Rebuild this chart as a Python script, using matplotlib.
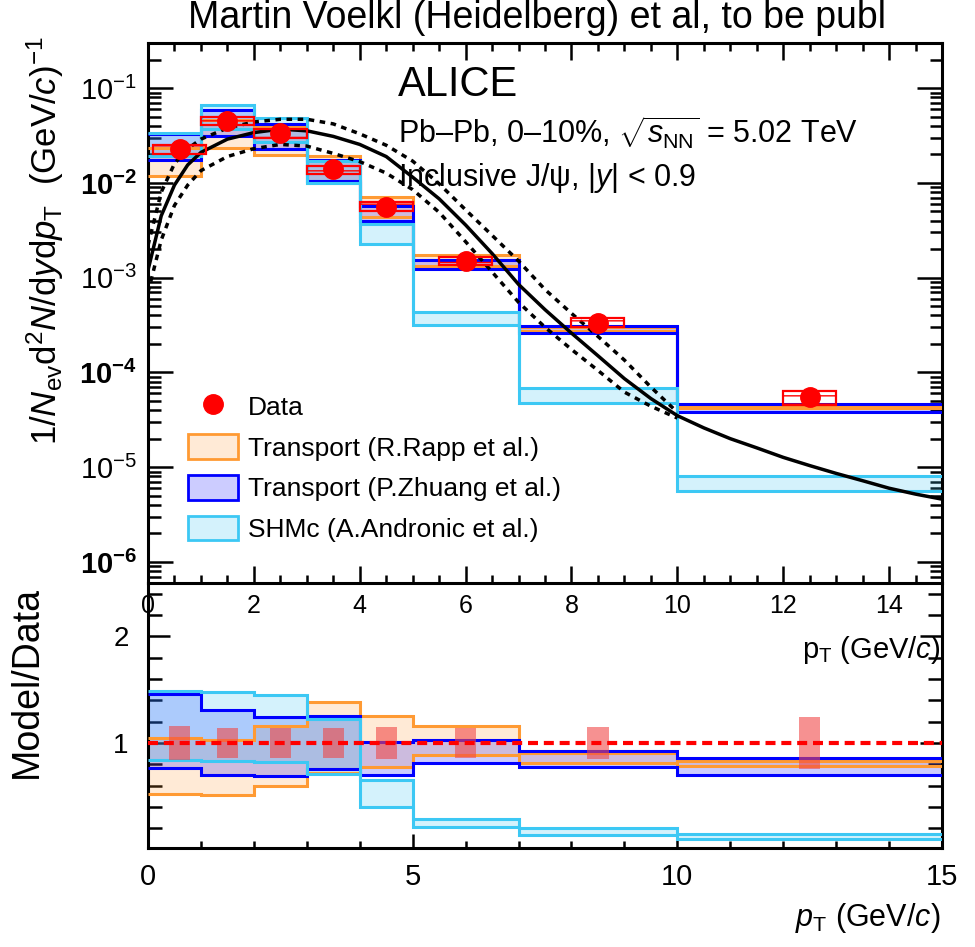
import numpy as np
import matplotlib
matplotlib.use('Agg')
import matplotlib.pyplot as plt
from matplotlib.patches import Rectangle, Patch
from matplotlib.lines import Line2D
from matplotlib.ticker import (MultipleLocator, FixedLocator, LogLocator, NullFormatter,
                               FuncFormatter)

plt.rcParams['font.family'] = ['Liberation Sans', 'DejaVu Sans']
plt.rcParams['mathtext.fontset'] = 'custom'
plt.rcParams['mathtext.rm'] = 'Liberation Sans'
plt.rcParams['mathtext.it'] = 'Liberation Sans:italic'
plt.rcParams['mathtext.bf'] = 'Liberation Sans:bold'

# pT binning and data
bin_edges = [0, 1, 2, 3, 4, 5, 7, 10, 15]
data_x = [0.6, 1.5, 2.5, 3.5, 4.5, 6.0, 8.5, 12.5]
data_y = [0.0226, 0.0453, 0.0334, 0.0139, 0.00564, 0.00151, 3.36e-4, 5.46e-5]
data_err = [0.16, 0.14, 0.14, 0.14, 0.15, 0.14, 0.15, 0.24]   # relative

# model / data bands per bin
rapp_lo = [0.525, 0.51, 0.594, 0.72, 0.775, 0.89, 0.81, 0.78]
rapp_hi = [1.047, 1.03, 1.156, 1.384, 1.25, 1.162, 0.906, 0.83]
zhuang_lo = [0.766, 0.697, 0.688, 0.76, 0.697, 0.81, 0.775, 0.697]
zhuang_hi = [1.46, 1.31, 1.24, 1.25, 1.006, 1.025, 0.928, 0.856]
shm_lo = [0.844, 0.828, 0.819, 0.71, 0.40, 0.21, 0.14, 0.103]
shm_hi = [1.484, 1.475, 1.453, 1.228, 0.656, 0.29, 0.203, 0.147]

# black reference curves
curve_pt = [0, 0.25, 0.5, 0.75, 1, 1.5, 2, 2.5, 3, 3.5, 4, 4.5, 5, 5.5, 6, 6.5, 7,
            7.5, 8, 8.5, 9, 9.5, 10, 10.5, 11, 11.5, 12, 12.5, 13, 13.5, 14, 14.5, 15]
curve_mid = [1.2e-3, 4.5e-3, 0.0095, 0.0155, 0.021, 0.029, 0.034, 0.037, 0.0355, 0.031,
             0.0255, 0.019, 0.0115, 0.0068, 0.0036, 1.8e-3, 8.5e-4, 4.6e-4, 2.6e-4, 1.5e-4,
             8.6e-5, 5.3e-5, 3.5e-5, 2.6e-5, 2.0e-5, 1.6e-5, 1.27e-5, 1.04e-5, 8.6e-6,
             7.2e-6, 6.0e-6, 5.2e-6, 4.6e-6]
curve_hi = [2.2e-3, 8e-3, 0.016, 0.023, 0.029, 0.038, 0.044, 0.047, 0.047, 0.042, 0.033,
            0.025, 0.017, 0.0098, 5.2e-3, 2.8e-3, 1.5e-3, 7.5e-4, 4.2e-4, 2.4e-4, 1.35e-4,
            7e-5, 3.8e-5]
curve_lo = [7e-4, 2.5e-3, 5.8e-3, 0.0095, 0.0135, 0.019, 0.023, 0.0255, 0.0245, 0.0205,
            0.0168, 0.0127, 0.0085, 4.9e-3, 2.4e-3, 1.15e-3, 5.5e-4, 3.0e-4, 1.75e-4,
            1.05e-4, 6.2e-5, 4.4e-5, 3.3e-5]

orange = '#ff9a33'
blue = '#0000ff'
cyan = '#3cc8f4'

models = [
    (rapp_lo, rapp_hi, orange, 0.2, 'Transport (R.Rapp et al.)'),
    (zhuang_lo, zhuang_hi, blue, 0.2, 'Transport (P.Zhuang et al.)'),
    (shm_lo, shm_hi, cyan, 0.22, 'SHMc (A.Andronic et al.)'),
]

fig = plt.figure(figsize=(9.75, 9.47), dpi=100)
ax_r = fig.add_axes([0.1518, 0.1045, 0.8144, 0.2798])
ax = fig.add_axes([0.1518, 0.3844, 0.8144, 0.5702])

edges = np.array(bin_edges, dtype=float)
dy = np.array(data_y)

# ---- top panel
for lo, hi, ec, a, lab in models:
    lo_abs = np.array(lo) * dy
    hi_abs = np.array(hi) * dy
    ax.stairs(hi_abs, edges, baseline=lo_abs, fill=True, color=ec, alpha=a, lw=0, zorder=2)
    ax.stairs(hi_abs, edges, baseline=None, color=ec, lw=2.2, zorder=3)
    ax.stairs(lo_abs, edges, baseline=None, color=ec, lw=2.2, zorder=3)

ax.plot(curve_pt, curve_mid, color='black', lw=2.5, zorder=4)
ax.plot(curve_pt[:len(curve_hi)], curve_hi, color='black', lw=2.5, ls=(0, (1.6, 1.6)), zorder=4)
ax.plot(curve_pt[:len(curve_lo)], curve_lo, color='black', lw=2.5, ls=(0, (1.6, 1.6)), zorder=4)

for x, y, e in zip(data_x, data_y, data_err):
    ax.add_patch(Rectangle((x - 0.5, y * (1 - e * 0.7)), 1.0, y * e * 1.4,
                           facecolor='none', edgecolor='red', lw=1.6, hatch='--', zorder=5))
ax.plot(data_x, data_y, 'o', color='red', ms=14, zorder=6)


def log_label(v, pos):
    p = int(round(np.log10(v)))
    if p % 2 == 0:
        return r'$\mathbf{10^{%d}}$' % p
    return r'$10^{%d}$' % p


ax.set_yscale('log')
ax.set_xlim(0, 15)
ax.set_ylim(6e-7, 0.3)
ax.xaxis.set_major_locator(FixedLocator([0, 2, 4, 6, 8, 10, 12, 14]))
ax.xaxis.set_minor_locator(MultipleLocator(0.5))
ax.yaxis.set_major_locator(LogLocator(base=10, numticks=20))
ax.yaxis.set_major_formatter(FuncFormatter(log_label))
ax.yaxis.set_minor_locator(LogLocator(base=10, subs=np.arange(2, 10), numticks=20))
ax.yaxis.set_minor_formatter(NullFormatter())
ax.tick_params(which='both', direction='in', top=True, right=True, width=1.8)
ax.tick_params(axis='x', which='major', length=12, labelsize=18, pad=8)
ax.tick_params(axis='x', which='minor', length=6)
ax.tick_params(axis='y', which='major', length=18, labelsize=21, pad=8)
ax.tick_params(axis='y', which='minor', length=9)
for s in ax.spines.values():
    s.set_linewidth(2.2)

leg_handles = [Line2D([], [], marker='o', color='red', ls='none', ms=14)]
for lo, hi, ec, a, lab in models:
    leg_handles.append(Patch(facecolor=matplotlib.colors.to_rgba(ec, a), edgecolor=ec, lw=2))
leg_labels = ['Data'] + [m[4] for m in models]
ax.legend(leg_handles, leg_labels, loc='upper left', bbox_to_anchor=(0.037, 0.37),
          frameon=False, fontsize=19, handlelength=1.9, handleheight=1.05,
          labelspacing=0.55, handletextpad=0.38, borderaxespad=0)

fig.text(398 / 975, 1 - 85 / 947, 'ALICE', fontsize=30, ha='left', va='center')
fig.text(398 / 975, 1 - 133 / 947, r'Pb–Pb, 0–10%, $\sqrt{s_{\rm NN}}$ = 5.02 TeV',
         fontsize=22, ha='left', va='center')
fig.text(398 / 975, 1 - 178 / 947, r'Inclusive J/ψ, |$y$| < 0.9', fontsize=22,
         ha='left', va='center')
fig.text(537 / 975, 1 - 18 / 947, 'Martin Voelkl (Heidelberg) et al, to be publ',
         fontsize=27, ha='center', va='center')
fig.text(45 / 975, 1 - 445 / 947,
         r'1/$N_{\rm ev}$d$^{2}N$/d$y$d$p_{\rm T}$  (GeV/$c$)$^{-1}$',
         fontsize=25, rotation=90, ha='center', va='bottom')
fig.text(940 / 975, 1 - 650 / 947, r'p$_{\rm T}$ (GeV/$c$)', fontsize=21,
         ha='right', va='center')

# ---- ratio panel
for lo, hi, ec, a, lab in models:
    ax_r.stairs(hi, edges, baseline=lo, fill=True, color=ec, alpha=a, lw=0, zorder=2)
    ax_r.stairs(hi, edges, baseline=None, color=ec, lw=2.2, zorder=3)
    ax_r.stairs(lo, edges, baseline=None, color=ec, lw=2.2, zorder=3)

for x, e in zip(data_x, data_err):
    ax_r.add_patch(Rectangle((x - 0.2, 1 - e), 0.4, 2 * e, facecolor='#f04848',
                             edgecolor='none', alpha=0.6, zorder=4))
ax_r.axhline(1, color='red', lw=3, ls=(0, (2.4, 1.4)), zorder=5)

ax_r.set_xlim(0, 15)
ax_r.set_ylim(0.015, 2.5)
ax_r.spines['top'].set_visible(False)
for s in ax_r.spines.values():
    s.set_linewidth(2.2)
ax_r.xaxis.set_major_locator(MultipleLocator(5))
ax_r.xaxis.set_minor_locator(MultipleLocator(1))
ax_r.yaxis.set_major_locator(FixedLocator([1, 2]))
ax_r.yaxis.set_minor_locator(MultipleLocator(0.2))
ax_r.tick_params(which='both', direction='in', right=True, width=1.8)
ax_r.tick_params(axis='x', which='major', length=10, labelsize=21, pad=11)
ax_r.tick_params(axis='x', which='minor', length=5)
ax_r.tick_params(axis='y', which='major', length=16, labelsize=20, pad=14)
ax_r.tick_params(axis='y', which='minor', length=10)
ax_r.set_ylabel('Model/Data', fontsize=27)
ax_r.yaxis.set_label_coords(-0.13, 0.626)
fig.text(940 / 975, 1 - 918 / 947, r'$p_{\rm T}$ (GeV/$c$)', fontsize=22,
         ha='right', va='center')

fig.savefig('out.png', dpi=100)
